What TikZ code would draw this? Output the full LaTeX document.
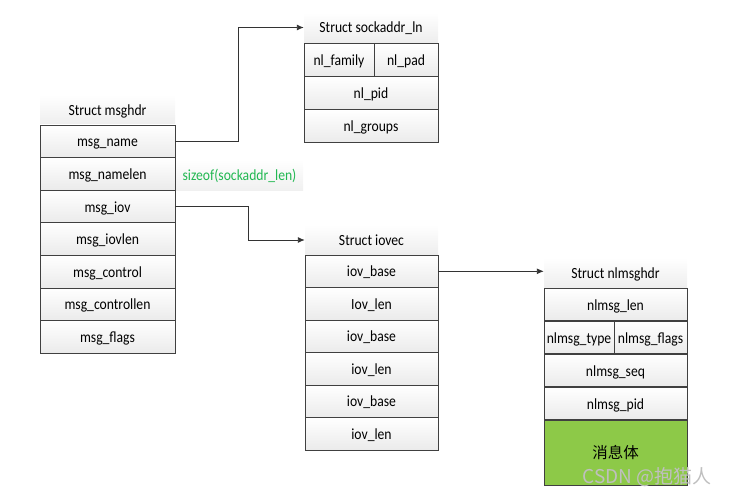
\documentclass[tikz,border=0pt]{standalone}
\usepackage{fontspec}
\usetikzlibrary{arrows.meta}
\setmainfont[FakeStretch=0.88]{Carlito}
\newfontfamily\cjk{Noto Sans CJK SC}
\definecolor{bodygreen}{RGB}{141,201,72}
\definecolor{lengreen}{RGB}{34,184,82}
\begin{document}
\begin{tikzpicture}[x=1pt,y=-1pt,font=\fontsize{15.5}{17}\selectfont,
  every node/.style={text height=12pt,text depth=1pt},
  field/.style={draw=black!75,line width=0.8pt,top color=white,bottom color=black!8,
    minimum height=32.6pt,inner sep=0pt,anchor=center},
  head/.style={top color=white,bottom color=black!7,minimum height=30pt,inner sep=0pt},
  link/.style={draw=black!80,line width=0.9pt,-{Latex[length=7pt,width=6pt]}}]
\useasboundingbox (0,0) rectangle (736,497);
% struct msghdr
\node[head,minimum width=135pt] at (107.5,110) (msghdr) {Struct msghdr};
\node[field,minimum width=135pt] at (107.5,141.3) (msgname) {msg\_name};
\node[field,minimum width=135pt] at (107.5,173.9) (msgnamelen) {msg\_namelen};
\node[field,minimum width=135pt] at (107.5,206.5) (msgiov) {msg\_iov};
\node[field,minimum width=135pt] at (107.5,239.1) (msgiovlen) {msg\_iovlen};
\node[field,minimum width=135pt] at (107.5,271.7) (msgcontrol) {msg\_control};
\node[field,minimum width=135pt] at (107.5,304.3) (msgcontrollen) {msg\_controllen};
\node[field,minimum width=135pt] at (107.5,336.9) (msgflags) {msg\_flags};
\node[top color=white,bottom color=black!6,minimum width=127pt,minimum height=32pt,inner sep=0pt,
  text=lengreen] at (239.5,175) (namelen) {sizeof(sockaddr\_len)};
% struct sockaddr_nl
\node[head,minimum width=134pt] at (371,27.5) (sockhdr) {Struct sockaddr\_ln};
\node[field,minimum width=70pt] at (339,60) (nlfamily) {nl\_family};
\node[field,minimum width=64pt] at (406,60) (nlpad) {nl\_pad};
\node[field,minimum width=134pt] at (371,93) (nlpid) {nl\_pid};
\node[field,minimum width=134pt] at (371,126) (nlgroups) {nl\_groups};
% struct iovec
\node[head,minimum width=133pt] at (371.5,240) (iovhdr) {Struct iovec};
\node[field,minimum width=133pt] at (371.5,271.3) (iovbase) {iov\_base};
\node[field,minimum width=133pt] at (371.5,303.8) (iovlen) {Iov\_len};
\node[field,minimum width=133pt] at (371.5,336.3) (iovbaseb) {iov\_base};
\node[field,minimum width=133pt] at (371.5,368.8) (iovlenb) {iov\_len};
\node[field,minimum width=133pt] at (371.5,401.3) (iovbasec) {iov\_base};
\node[field,minimum width=133pt] at (371.5,433.8) (iovlenc) {iov\_len};
% struct nlmsghdr
\node[head,minimum width=143pt] at (615.5,273) (nlhdr) {Struct nlmsghdr};
\node[field,minimum width=143pt] at (615.5,304.5) (nlmsglen) {nlmsg\_len};
\node[field,minimum width=70pt] at (579,337.5) (nlmsgtype) {nlmsg\_type};
\node[field,minimum width=73pt] at (650.5,337.5) (nlmsgflags) {nlmsg\_flags};
\node[field,minimum width=143pt] at (615.5,370.5) (nlmsgseq) {nlmsg\_seq};
\node[field,minimum width=143pt] at (615.5,403.5) (nlmsgpid) {nlmsg\_pid};
\node[field,minimum width=143pt,minimum height=65pt,top color=bodygreen,
  bottom color=bodygreen] at (615.5,452.5) (body) {\cjk 消息体};
\node[text=black!25,font=\fontsize{19}{21}\selectfont\cjk] at (647,478) (mark) {CSDN @抱猫人};
% pointers
\draw[link] (msgname.east) -- ++(63,0) |- (sockhdr.west);
\draw[link] (msgiov.east) -- ++(73,0) |- (iovhdr.west);
\draw[link] (iovbase.east) -- (iovbase.east -| nlhdr.west);
\end{tikzpicture}
\end{document}
